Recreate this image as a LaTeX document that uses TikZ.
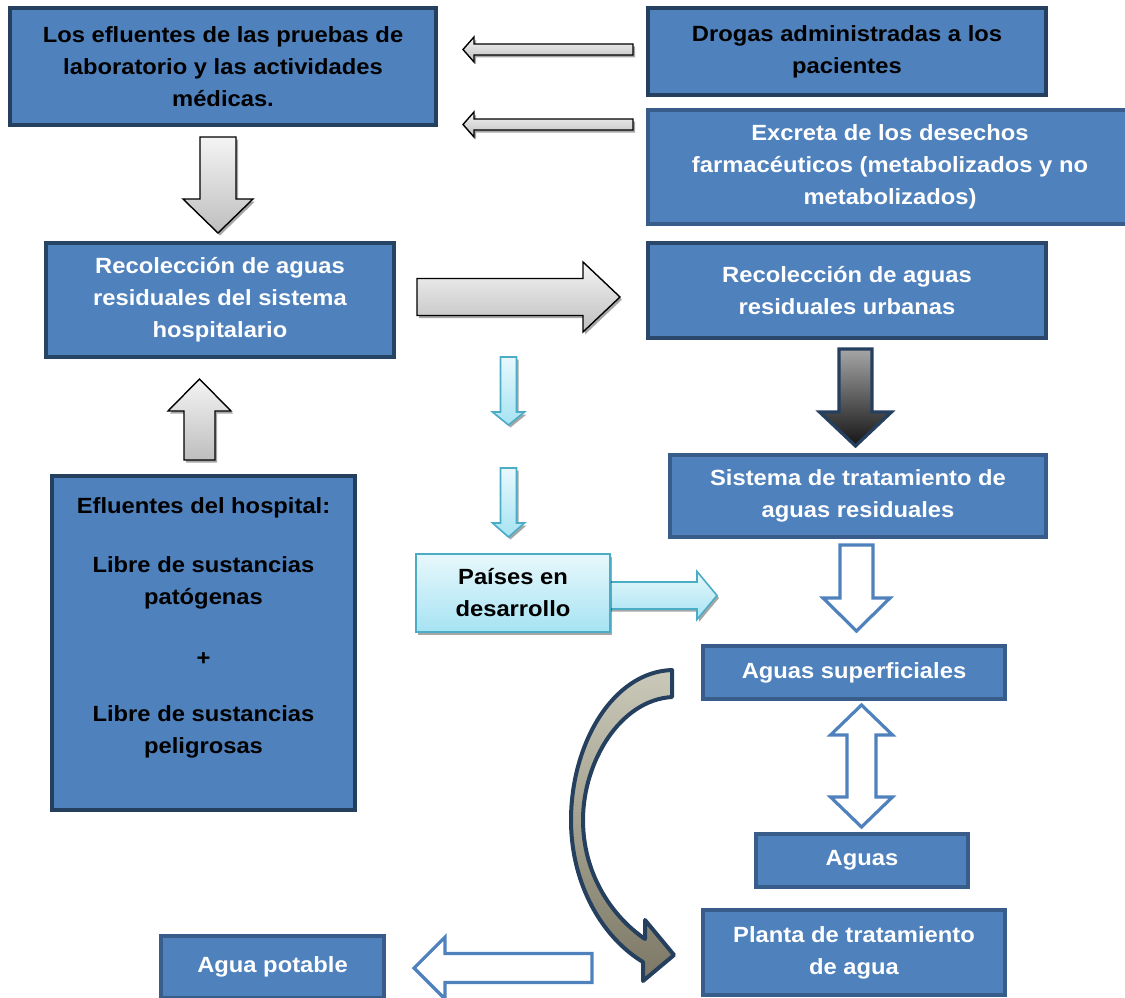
\documentclass[tikz,border=0pt]{standalone}
\usepackage{fontspec}
\setmainfont{Liberation Sans}[FakeStretch=1.08]
\usetikzlibrary{shadows}

\definecolor{boxfill}{HTML}{4F81BD}
\definecolor{boxline}{HTML}{385D8A}
\definecolor{boxdark}{HTML}{253F5F}
\definecolor{cyanline}{HTML}{4BACC6}
\definecolor{cyantop}{HTML}{E8F8FC}
\definecolor{cyanbot}{HTML}{A6E3F3}
\definecolor{graytop}{HTML}{F4F4F4}
\definecolor{graybot}{HTML}{BEBEBE}
\definecolor{tantop}{HTML}{CAC8B8}
\definecolor{tanbot}{HTML}{7C7865}

\newcommand{\boxfont}{\fontsize{22}{32}\selectfont\bfseries}

% vertical block arrow: centre x, tail y, head base y, tip y, shaft half width, head half width
\newcommand{\varrow}[7][]{%
  \path[#1] ({#2-#6},#3) -- ({#2-#6},#4) -- ({#2-#7},#4) -- (#2,#5)
    -- ({#2+#7},#4) -- ({#2+#6},#4) -- ({#2+#6},#3) -- cycle;}
% horizontal block arrow: centre y, tail x, head base x, tip x, shaft half width, head half width
\newcommand{\harrow}[7][]{%
  \path[#1] (#3,{#2-#6}) -- (#4,{#2-#6}) -- (#4,{#2-#7}) -- (#5,#2)
    -- (#4,{#2+#7}) -- (#4,{#2+#6}) -- (#3,{#2+#6}) -- cycle;}

\tikzset{
  box/.style={draw=boxline, line width=4pt, fill=boxfill, text=white,
    align=center, font=\boxfont, inner sep=0pt},
  darkbox/.style={box, draw=boxdark},
  softshadow/.style={drop shadow={shadow xshift=2pt, shadow yshift=-2.5pt,
    opacity=0.35, fill=black}},
  grayarrow/.style={draw=black, line width=1.4pt, top color=graytop,
    bottom color=graybot, softshadow},
  cyanarrow/.style={draw=cyanline, line width=1.6pt, top color=cyantop,
    bottom color=cyanbot, softshadow},
  outlinearrow/.style={draw=boxfill, line width=3.2pt, fill=white},
  darkarrow/.style={draw=boxdark, line width=3.2pt, top color=black!35,
    bottom color=black!92},
  curvearrow/.style={draw=boxdark, line width=4pt, line join=round,
    top color=tantop, bottom color=tanbot},
}

\begin{document}
\begin{tikzpicture}[x=1pt, y=-1pt]
\useasboundingbox (0,0) rectangle (1125,998);

% ---------- block arrows ----------
\harrow[grayarrow]{49.5}{633}{474}{463}{5.5}{12.5}
\harrow[grayarrow]{124.5}{633}{474}{463}{5.5}{12.5}
\varrow[grayarrow]{218}{137}{199}{233}{18}{35}
\harrow[grayarrow]{297}{417}{583}{620}{18.5}{35}
\varrow[grayarrow]{199.5}{460}{411}{379}{15.5}{31.5}
\varrow[cyanarrow]{508.5}{357}{412}{425}{8}{16}
\varrow[cyanarrow]{508.5}{468}{523}{537}{8}{16}
\harrow[cyanarrow]{595.5}{605}{697}{717}{13.5}{24}
\varrow[darkarrow]{855.5}{349}{412}{446}{16.5}{36}
\varrow[outlinearrow]{856.5}{545}{598}{631}{16.5}{33.5}
\harrow[outlinearrow]{968}{592}{445}{414}{14.5}{31}

% two-way arrow between the surface waters and the waters
\path[outlinearrow] (861.5,705) -- (892.5,735) -- (876,735) -- (876,797)
  -- (892.5,797) -- (861.5,827) -- (830.5,797) -- (847,797) -- (847,735)
  -- (830.5,735) -- cycle;

% curved arrow from the surface waters to the treatment plant
\path[curvearrow] (672,670) .. controls (612,672) and (571,745) .. (571,820)
  .. controls (571,885) and (603,938) .. (643,962) -- (643,981) -- (674,955)
  -- (645,920) -- (645,939) .. controls (610,915) and (583,872) .. (583,820)
  .. controls (583,762) and (620,700) .. (672,697) -- cycle;

% ---------- boxes ----------
\node[darkbox, text=black, minimum width=426, minimum height=117] (lab) at (223,66.5)
  {Los efluentes de las pruebas de\\laboratorio y las actividades\\médicas.};
\node[darkbox, text=black, minimum width=398, minimum height=87] (drogas) at (847,51.5)
  {Drogas administradas a los\\pacientes};
\node[box, minimum width=484, minimum height=114] (excreta) at (890,167)
  {Excreta de los desechos\\farmacéuticos (metabolizados y no\\metabolizados)};
\node[box, draw=boxdark!85!boxline, minimum width=348, minimum height=114] (hosp) at (220,300)
  {Recolección de aguas\\residuales del sistema\\hospitalario};
\node[box, draw=boxdark!70!boxline, minimum width=398, minimum height=95] (urb) at (847,290.5)
  {Recolección de aguas\\residuales urbanas};
\node[box, minimum width=376, minimum height=82] (sist) at (858,496)
  {Sistema de tratamiento de\\aguas residuales};
\node[darkbox, minimum width=303, minimum height=334] (eflu) at (203.5,643) {};
\node[align=center, font=\boxfont, text=black, inner sep=0pt] (efltxt) at (203.5,628)
  {Efluentes del hospital:\\[27pt]Libre de sustancias\\patógenas\\[29pt]+\\[24pt]Libre de sustancias\\peligrosas};
\node[draw=cyanline, line width=1.6pt, top color=cyantop, bottom color=cyanbot,
  softshadow, align=center, font=\boxfont, inner sep=0pt,
  minimum width=194, minimum height=78] (paises) at (513,593) {Países en\\desarrollo};
\node[box, minimum width=302, minimum height=53] (sup) at (854,672.5) {Aguas superficiales};
\node[box, minimum width=212, minimum height=53] (aguas) at (862,860.5) {Aguas};
\node[box, minimum width=302, minimum height=85] (planta) at (854,952.5)
  {Planta de tratamiento\\de agua};
\node[box, minimum width=223, minimum height=62] (potable) at (272.5,967) {Agua potable};
\end{tikzpicture}
\end{document}
